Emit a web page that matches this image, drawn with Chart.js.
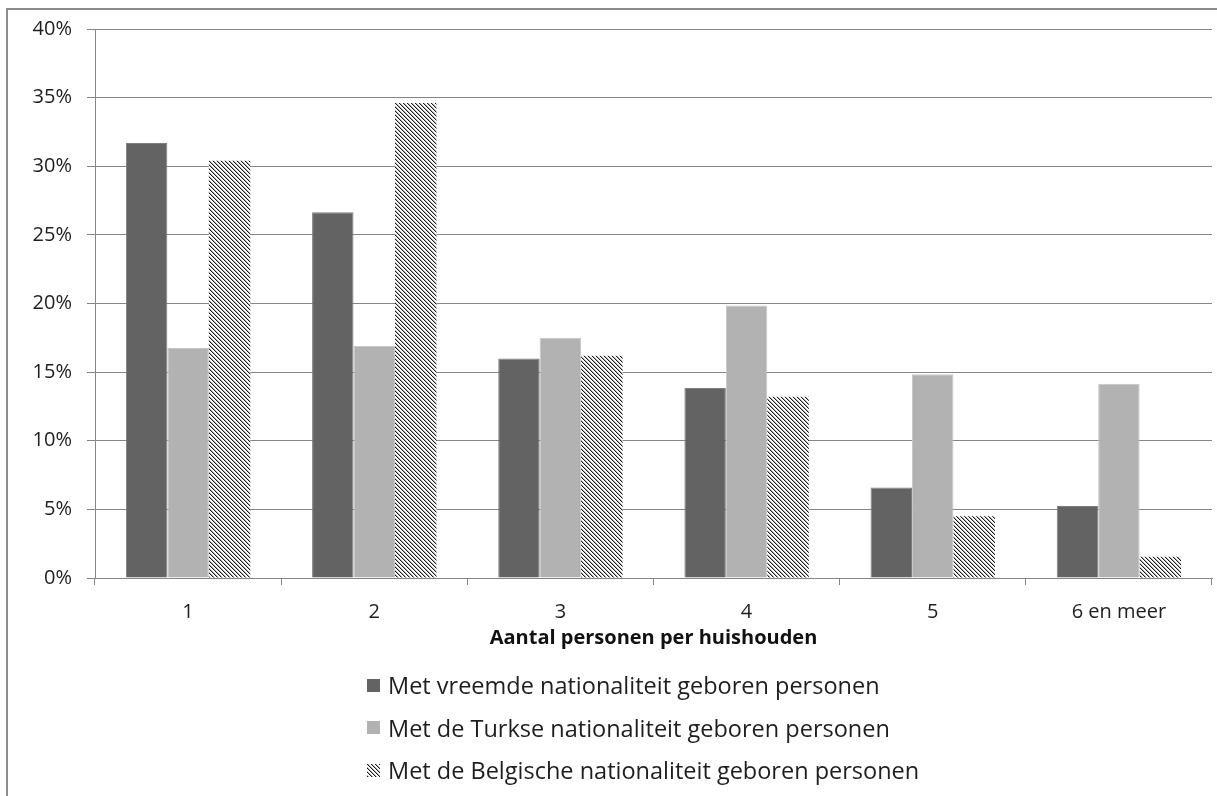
<!DOCTYPE html>
<html>
<head>
<meta charset="utf-8">
<script src="https://cdn.jsdelivr.net/npm/chart.js@4.4.1/dist/chart.umd.min.js"></script>
<style>
  html, body { margin: 0; padding: 0; background: #ffffff; }
  #wrap { position: relative; width: 1217px; height: 796px; overflow: hidden; background: #fff; }
  #frame { position: absolute; left: 6px; top: 8px; width: 1400px; height: 1000px;
           border-left: 2px solid #8c8c8c; border-top: 2px solid #8c8c8c; }
  #chart { position: absolute; left: 0; top: 0; }
  #legend { position: absolute; left: 367px; top: 664px; font-family: "Open Sans", sans-serif;
            font-size: 23.5px; color: #1e1e1e; }
  .item { display: flex; align-items: center; height: 42.5px; white-space: nowrap; }
  .sw { width: 13px; height: 13px; margin-right: 8px; display: block; }
</style>
</head>
<body>
<div id="wrap">
  <div id="frame"></div>
  <canvas id="chart" width="1217" height="796"></canvas>
  <div id="legend"></div>
</div>
<script>
// ---- data ----
const categories = ['1', '2', '3', '4', '5', '6 en meer'];
const seriesNames = [
  'Met vreemde nationaliteit geboren personen',
  'Met de Turkse nationaliteit geboren personen',
  'Met de Belgische nationaliteit geboren personen'
];
const vreemdeValues   = [31.7, 26.65, 16.0, 13.85, 6.6, 5.25];
const turkseValues    = [16.75, 16.9, 17.5, 19.85, 14.85, 14.15];
const belgischeValues = [30.4, 34.6, 16.2, 13.2, 4.5, 1.55];
const yTickValues = [0, 5, 10, 15, 20, 25, 30, 35, 40];
const xAxisTitle = 'Aantal personen per huishouden';

// ---- hatch pattern ----
function drawHatchTile(g) {
  g.fillStyle = '#ffffff';
  g.fillRect(0, 0, 4, 4);
  for (let i = 0; i < 4; i++) {
    g.fillStyle = '#1a1a1a';
    g.fillRect(i, i, 1, 1);
    g.fillStyle = '#b0b0b0';
    g.fillRect((i + 1) % 4, i, 1, 1);
  }
}
const tile = document.createElement('canvas');
tile.width = 4; tile.height = 4;
drawHatchTile(tile.getContext('2d'));
const canvas = document.getElementById('chart');
const ctx = canvas.getContext('2d');
const hatch = ctx.createPattern(tile, 'repeat');

const FONT = '"Open Sans"';
const AXIS = '#868686';
const TEXT = '#1e1e1e';

const chart = new Chart(ctx, {
  type: 'bar',
  data: {
    labels: categories,
    datasets: [
      { label: seriesNames[0], data: vreemdeValues, backgroundColor: '#636363', borderColor: '#7e7e7e', borderWidth: 1, borderSkipped: 'start' },
      { label: seriesNames[1], data: turkseValues, backgroundColor: '#b2b2b2', borderColor: '#c6c6c6', borderWidth: 1, borderSkipped: 'start' },
      { label: seriesNames[2], data: belgischeValues, backgroundColor: hatch, borderWidth: 0 }
    ]
  },
  options: {
    responsive: false,
    animation: false,
    devicePixelRatio: 1,
    categoryPercentage: 0.668,
    barPercentage: 1.0,
    layout: { padding: { left: 0, top: 29, right: 5, bottom: 147 } },
    plugins: { legend: { display: false }, tooltip: { enabled: false } },
    scales: {
      x: {
        grid: { offset: true, drawOnChartArea: false, drawTicks: true, tickLength: 7, color: AXIS, lineWidth: 1 },
        border: { color: AXIS, width: 1 },
        ticks: { font: { family: FONT, size: 20 }, color: TEXT, padding: 15 },
        title: { display: true, text: xAxisTitle, color: '#111', font: { family: FONT, size: 20, weight: 'bold' }, padding: { top: 0, bottom: -1 } },
        afterFit: (s) => { s.height = 71; }
      },
      y: {
        min: 0, max: 40,
        afterBuildTicks: (s) => { s.ticks = yTickValues.map(v => ({ value: v })); },
        ticks: { font: { family: FONT, size: 20 }, color: TEXT, padding: 15, callback: (v) => v + '%' },
        grid: { color: AXIS, lineWidth: 1, tickLength: 8 },
        border: { color: AXIS, width: 1 },
        afterFit: (s) => { s.width = 95; }
      }
    }
  }
});

// ---- HTML legend built from the chart's datasets ----
const legend = document.getElementById('legend');
chart.data.datasets.forEach((ds) => {
  const row = document.createElement('div');
  row.className = 'item';
  const sw = document.createElement('canvas');
  sw.width = 13; sw.height = 13; sw.className = 'sw';
  const sg = sw.getContext('2d');
  if (typeof ds.backgroundColor === 'string') {
    sg.fillStyle = ds.backgroundColor;
    sg.fillRect(0, 0, 13, 13);
  } else {
    sg.fillStyle = sg.createPattern(tile, 'repeat');
    sg.fillRect(0, 0, 13, 13);
  }
  const tx = document.createElement('span');
  tx.textContent = ds.label;
  row.appendChild(sw);
  row.appendChild(tx);
  legend.appendChild(row);
});
</script>
</body>
</html>
